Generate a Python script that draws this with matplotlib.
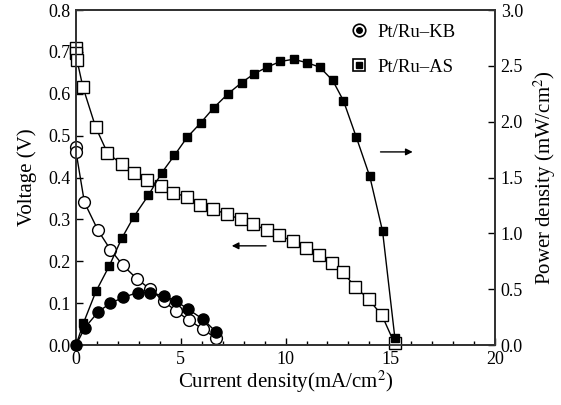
import matplotlib
matplotlib.use("Agg")
import matplotlib.pyplot as plt
from matplotlib.lines import Line2D
from matplotlib.ticker import MultipleLocator

plt.rcParams['font.family'] = ['Liberation Serif', 'DejaVu Serif']
plt.rcParams['mathtext.fontset'] = 'stix'

# Pt/Ru-AS: voltage (left axis) and power density (right axis)
as_v_current = [0, 0.02, 0.05, 0.33, 0.94, 1.50, 2.18, 2.78, 3.40, 4.06, 4.64, 5.28,
                5.90, 6.55, 7.19, 7.86, 8.46, 9.10, 9.70, 10.34, 10.98, 11.60,
                12.23, 12.73, 13.33, 13.97, 14.60, 15.20]
as_voltage = [0.710, 0.697, 0.680, 0.616, 0.520, 0.459, 0.432, 0.411, 0.394, 0.380,
              0.364, 0.354, 0.334, 0.324, 0.313, 0.300, 0.288, 0.275, 0.262, 0.248,
              0.231, 0.215, 0.195, 0.174, 0.139, 0.109, 0.071, 0.004]
as_p_current = [0, 0.35, 0.95, 1.59, 2.18, 2.76, 3.45, 4.08, 4.70, 5.30, 5.95, 6.57,
                7.25, 7.90, 8.50, 9.13, 9.75, 10.38, 11.00, 11.63, 12.25, 12.76,
                13.38, 14.02, 14.63, 15.22]
as_power = [0, 0.195, 0.48, 0.71, 0.955, 1.15, 1.34, 1.54, 1.70, 1.86, 1.99, 2.125,
            2.25, 2.35, 2.43, 2.49, 2.54, 2.56, 2.53, 2.49, 2.37, 2.19, 1.86, 1.51,
            1.02, 0.06]

# Pt/Ru-KB
kb_v_current = [0, 0, 0.40, 1.05, 1.64, 2.23, 2.93, 3.53, 4.18, 4.78, 5.37, 6.06, 6.68]
kb_voltage = [0.474, 0.462, 0.341, 0.274, 0.228, 0.191, 0.157, 0.134, 0.105, 0.081,
              0.060, 0.038, 0.016]
kb_p_current = [0, 0.42, 1.07, 1.63, 2.25, 2.94, 3.53, 4.20, 4.77, 5.36, 6.07, 6.67]
kb_power = [0, 0.155, 0.30, 0.373, 0.427, 0.47, 0.47, 0.44, 0.394, 0.32, 0.23, 0.12]

fig = plt.figure(figsize=(5.61, 4.05), dpi=100)
ax = fig.add_axes([0.1355, 0.148, 0.747, 0.827])
ax2 = ax.twinx()

line_kw = dict(color='black', linewidth=1.0, clip_on=False)
ax.plot(kb_v_current, kb_voltage, marker='o', markersize=8.5, markerfacecolor='white',
        markeredgecolor='black', markeredgewidth=1.0, zorder=3, **line_kw)
ax.plot(as_v_current, as_voltage, marker='s', markersize=8.3, markerfacecolor='white',
        markeredgecolor='black', markeredgewidth=1.0, zorder=3, **line_kw)
ax2.plot(kb_p_current, kb_power, marker='o', markersize=8, markerfacecolor='black',
         markeredgecolor='black', zorder=3, **line_kw)
ax2.plot(as_p_current, as_power, marker='s', markersize=6, markerfacecolor='black',
         markeredgecolor='black', zorder=3, **line_kw)

ax.set_xlim(0, 20)
ax.set_ylim(0, 0.8)
ax2.set_ylim(0, 3.0)
ax.xaxis.set_major_locator(MultipleLocator(5))
ax.xaxis.set_minor_locator(MultipleLocator(1))
ax.yaxis.set_major_locator(MultipleLocator(0.1))
ax2.yaxis.set_major_locator(MultipleLocator(0.5))
ax.yaxis.set_major_formatter(plt.FormatStrFormatter('%.1f'))
ax2.yaxis.set_major_formatter(plt.FormatStrFormatter('%.1f'))

ax.tick_params(axis='both', which='major', direction='in', length=5, width=1,
               labelsize=13, pad=4)
ax.tick_params(axis='x', which='minor', direction='in', length=3, width=1)
ax2.tick_params(axis='y', which='major', direction='in', length=5, width=1,
                labelsize=13, pad=4)
for a in (ax, ax2):
    for sp in a.spines.values():
        sp.set_linewidth(1.3)
        sp.set_color('#333333')

ax.set_xlabel('Current density(mA/cm$^2$)', fontsize=15, labelpad=1)
ax.set_ylabel('Voltage (V)', fontsize=15, labelpad=8)
ax2.set_ylabel('Power density (mW/cm$^2$)', fontsize=15, labelpad=6)

# direction arrows
ax.annotate('', xy=(7.3, 0.237), xytext=(9.2, 0.237),
            arrowprops=dict(arrowstyle='-|>', color='black', lw=1.0, mutation_scale=10))
ax2.annotate('', xy=(16.2, 1.73), xytext=(14.4, 1.73),
             arrowprops=dict(arrowstyle='-|>', color='black', lw=1.0, mutation_scale=10))

# legend with dotted markers
kb_handle = (Line2D([], [], marker='o', markersize=9, markerfacecolor='white',
                    markeredgecolor='black', markeredgewidth=1.2, linestyle='none'),
             Line2D([], [], marker='o', markersize=4, color='black', linestyle='none'))
as_handle = (Line2D([], [], marker='s', markersize=9, markerfacecolor='white',
                    markeredgecolor='black', markeredgewidth=1.2, linestyle='none'),
             Line2D([], [], marker='s', markersize=4, color='black', linestyle='none'))
ax.legend([kb_handle, as_handle], ['Pt/Ru\u2013KB', 'Pt/Ru\u2013AS'],
          loc='upper left', bbox_to_anchor=(0.612, 1.01), frameon=False,
          fontsize=13.5, handlelength=1.0, handletextpad=0.5, labelspacing=0.95)

fig.savefig('out.png', dpi=100)
